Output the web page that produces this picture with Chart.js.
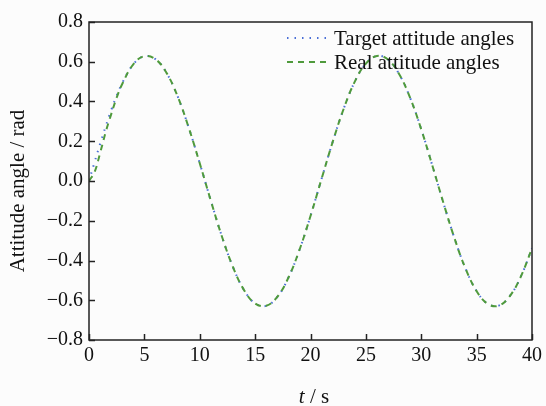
<!DOCTYPE html>
<html>
<head>
<meta charset="utf-8">
<script src="https://cdn.jsdelivr.net/npm/chart.js@4.4.0/dist/chart.umd.min.js"></script>
<style>
  html, body { margin: 0; padding: 0; background: #fcfcfc; }
  #wrap { width: 546px; height: 406px; position: relative; }
</style>
</head>
<body>
<div id="wrap"><canvas id="attChart" width="546" height="406"></canvas></div>
<script>
// time samples (s)
const timeVals = [0, 0.5, 1, 1.5, 2, 2.5, 3, 4, 5, 6, 7, 8, 9, 10, 11, 12, 13, 14, 15, 16, 17, 18, 19, 20,
  21, 22, 23, 24, 25, 26, 27, 28, 29, 30, 31, 32, 33, 34, 35, 36, 37, 38, 39, 40];
// target attitude angle (rad)
const targetVals = [0, 0.094, 0.186, 0.274, 0.356, 0.429, 0.493, 0.587, 0.628, 0.613, 0.544, 0.426, 0.269, 0.089,
  -0.099, -0.279, -0.433, -0.549, -0.616, -0.628, -0.583, -0.487, -0.347, -0.176,
  0.011, 0.196, 0.364, 0.500, 0.591, 0.629, 0.611, 0.538, 0.418, 0.260, 0.078,
  -0.110, -0.288, -0.441, -0.554, -0.618, -0.627, -0.579, -0.480, -0.338];
// real attitude angle (rad), lags at the start
const realVals = [0, 0.045, 0.140, 0.245, 0.335, 0.420, 0.488, 0.587, 0.628, 0.613, 0.544, 0.426, 0.269, 0.089,
  -0.099, -0.279, -0.433, -0.549, -0.616, -0.628, -0.583, -0.487, -0.347, -0.176,
  0.011, 0.196, 0.364, 0.500, 0.591, 0.629, 0.611, 0.538, 0.418, 0.260, 0.078,
  -0.110, -0.288, -0.441, -0.554, -0.618, -0.627, -0.579, -0.480, -0.338];
const xTicks = [0, 5, 10, 15, 20, 25, 30, 35, 40];
const yTicks = [-0.8, -0.6, -0.4, -0.2, 0, 0.2, 0.4, 0.6, 0.8];
const seriesNames = ['Target attitude angles', 'Real attitude angles'];

const SERIF = '"Liberation Serif", "DejaVu Serif", serif';
const BLUE = '#4a6fd6';
const GREEN = '#4f9a3c';

function toPts(ys) {
  return timeVals.map((t, i) => ({ x: t, y: ys[i] }));
}

// frame, inward ticks, axis titles and legend
const framePlugin = {
  id: 'frame',
  afterDraw(chart) {
    const { ctx, chartArea: a, scales } = chart;
    ctx.save();
    ctx.strokeStyle = '#222';
    ctx.lineWidth = 1.5;
    ctx.strokeRect(a.left, a.top, a.right - a.left, a.bottom - a.top);
    ctx.beginPath();
    xTicks.forEach(v => {
      const px = Math.round(scales.x.getPixelForValue(v)) + 0.5;
      ctx.moveTo(px, a.bottom);
      ctx.lineTo(px, a.bottom - 6);
    });
    yTicks.forEach(v => {
      const py = Math.round(scales.y.getPixelForValue(v)) + 0.5;
      ctx.moveTo(a.left, py);
      ctx.lineTo(a.left + 6, py);
    });
    ctx.stroke();

    // axis titles
    ctx.fillStyle = '#111';
    ctx.textBaseline = 'alphabetic';
    ctx.font = 'italic 21px ' + SERIF;
    const w1 = ctx.measureText('t').width;
    ctx.font = '21px ' + SERIF;
    const w2 = ctx.measureText(' / s').width;
    let sx = 314 - (w1 + w2) / 2;
    ctx.textAlign = 'left';
    ctx.font = 'italic 21px ' + SERIF;
    ctx.fillText('t', sx, 403);
    ctx.font = '21px ' + SERIF;
    ctx.fillText(' / s', sx + w1, 403);

    ctx.save();
    ctx.translate(18, 191);
    ctx.rotate(-Math.PI / 2);
    ctx.textAlign = 'center';
    ctx.textBaseline = 'middle';
    ctx.fillText('Attitude angle / rad', 0, 0);
    ctx.restore();

    // legend
    ctx.font = '21px ' + SERIF;
    ctx.textAlign = 'left';
    ctx.textBaseline = 'middle';
    chart.data.datasets.forEach((ds, i) => {
      const ly = 38 + i * 24;
      ctx.beginPath();
      ctx.strokeStyle = ds.borderColor;
      ctx.lineWidth = ds.borderWidth;
      ctx.setLineDash(ds.borderDash);
      ctx.moveTo(287, ly);
      ctx.lineTo(331, ly);
      ctx.stroke();
      ctx.setLineDash([]);
      ctx.fillStyle = '#111';
      ctx.fillText(ds.label, 334, ly + 1);
    });
    ctx.restore();
  }
};

new Chart(document.getElementById('attChart'), {
  type: 'line',
  data: {
    datasets: [
      {
        label: seriesNames[0],
        data: toPts(targetVals),
        borderColor: BLUE,
        borderWidth: 2,
        borderDash: [1.5, 6],
        pointRadius: 0,
        tension: 0.4,
        fill: false,
        order: 2,
      },
      {
        label: seriesNames[1],
        data: toPts(realVals),
        borderColor: GREEN,
        borderWidth: 2,
        borderDash: [6, 5],
        pointRadius: 0,
        tension: 0.4,
        fill: false,
        order: 1,
      },
    ],
  },
  options: {
    responsive: false,
    animation: false,
    layout: { padding: { top: 22, right: 10, left: 0, bottom: 0 } },
    plugins: { legend: { display: false }, tooltip: { enabled: false } },
    scales: {
      x: {
        type: 'linear',
        min: 0,
        max: 40,
        grid: { display: false, drawTicks: false },
        border: { display: false },
        afterFit: s => { s.height = 66; },
        afterBuildTicks: s => { s.ticks = xTicks.map(v => ({ value: v })); },
        ticks: { color: '#111', padding: 4, font: { family: SERIF, size: 20 }, maxRotation: 0,
          callback: v => String(v) },
      },
      y: {
        min: -0.8,
        max: 0.8,
        grid: { display: false, drawTicks: false },
        border: { display: false },
        afterFit: s => { s.width = 89; },
        afterBuildTicks: s => { s.ticks = yTicks.map(v => ({ value: v })); },
        ticks: { color: '#111', padding: 6, font: { family: SERIF, size: 20 },
          callback: v => v.toFixed(1).replace('-', '\u2212') },
      },
    },
  },
  plugins: [framePlugin],
});
</script>
</body>
</html>
